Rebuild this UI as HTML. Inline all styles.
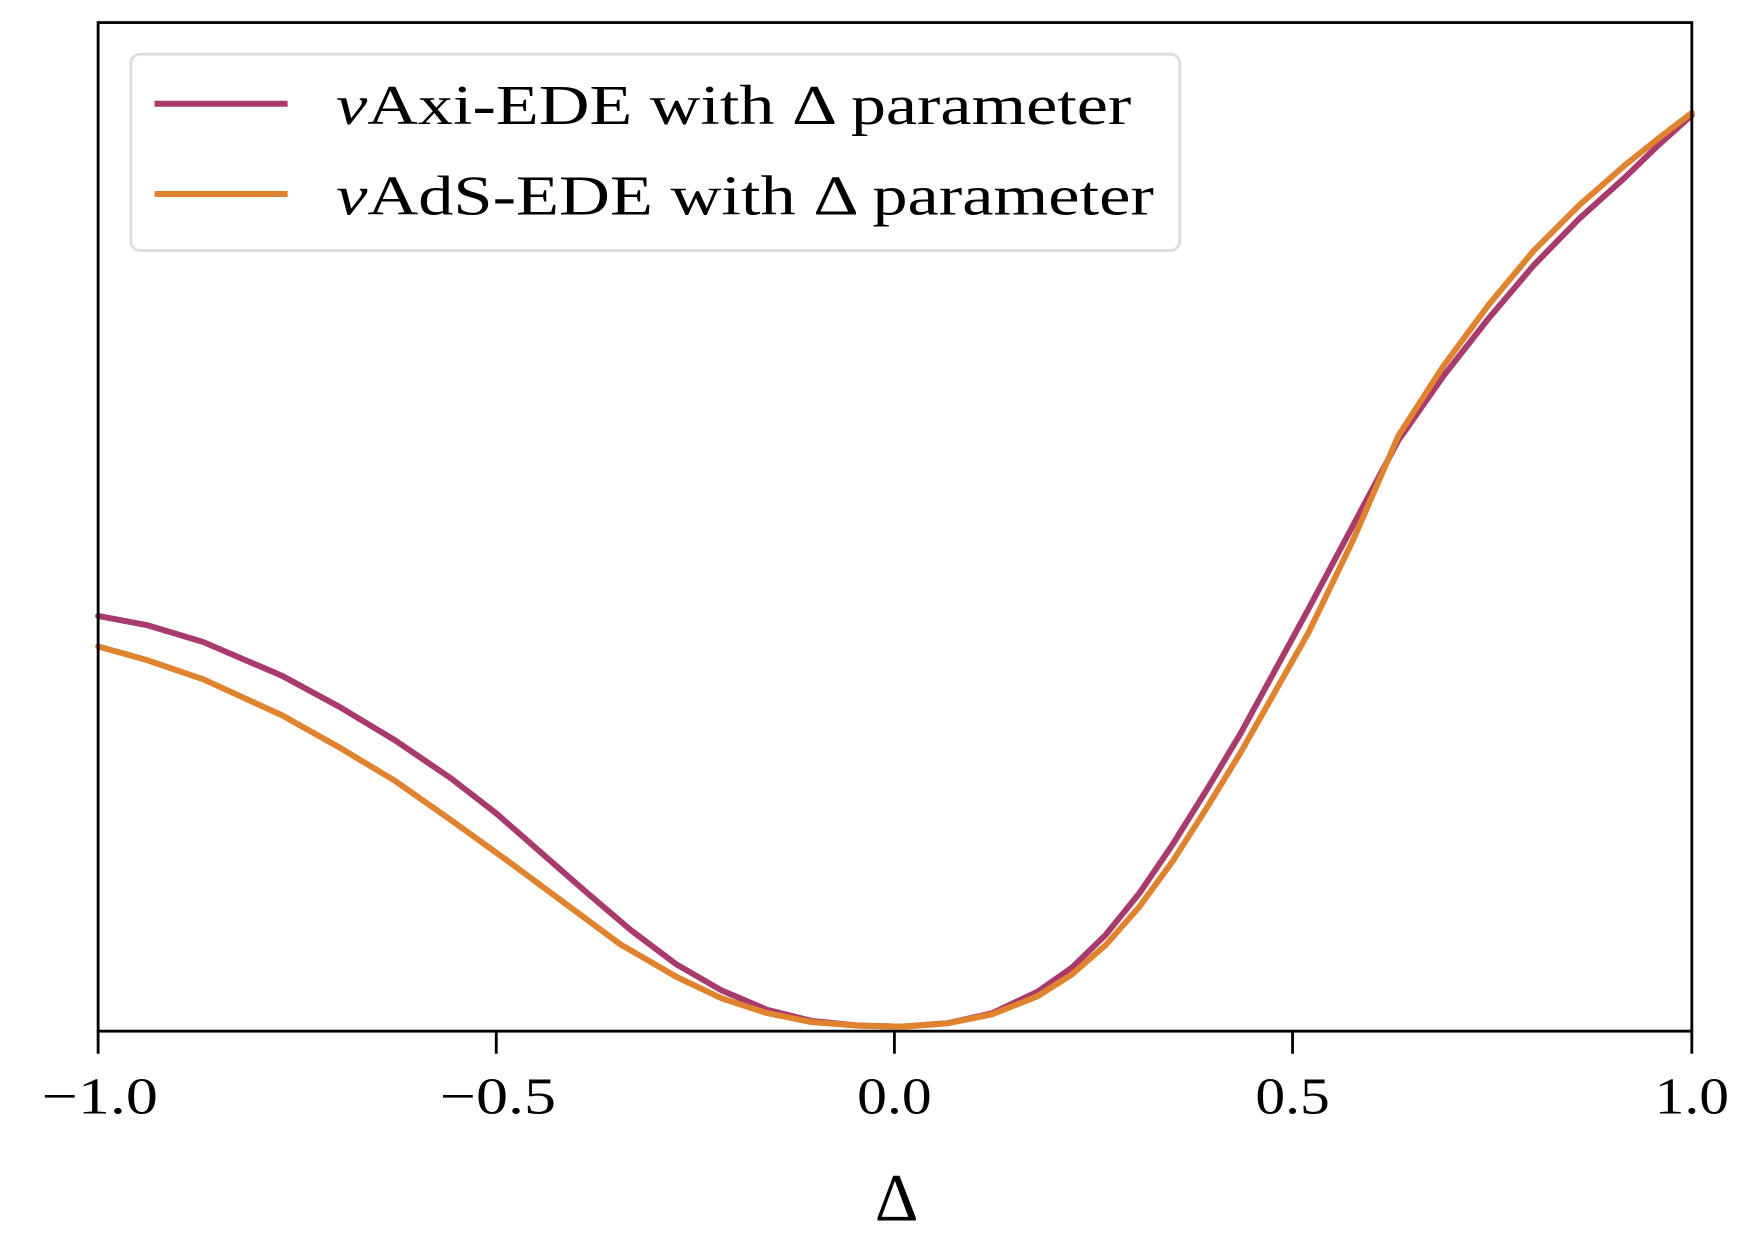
<!DOCTYPE html>
<html><head><meta charset="utf-8"><style>
html,body{margin:0;padding:0;background:#fff;}
svg{display:block;}
text{font-family:"Liberation Serif","DejaVu Serif",serif;fill:#000;}
</style></head><body>
<svg width="1764" height="1241" viewBox="0 0 1564 1100" preserveAspectRatio="none">
<rect x="0" y="0" width="1564" height="1100" fill="#fff"/>
<polyline fill="none" stroke="#a83a6e" stroke-width="5.3" stroke-linejoin="round" stroke-linecap="round" points="87,546 130,554 180,569 250,599 300,626 350,656 400,690 440,721 480,756 520,791 560,825 600,855 640,878 680,895 720,905 760,909 800,910 840,907 880,898 920,879 950,858 980,829 1010,792 1040,748 1070,700 1100,650 1130,595 1160,540 1200,465 1240,390 1280,333 1320,282 1360,235 1400,194 1440,158 1470,129 1500,102"/>
<polyline fill="none" stroke="#e0832e" stroke-width="5.3" stroke-linejoin="round" stroke-linecap="round" points="87,573 130,585 180,602 250,634 300,662 350,692 400,727 450,763 500,800 550,837 600,866 640,885 680,898 720,906 760,909 800,910 840,907 880,899 920,883 950,864 980,838 1010,804 1040,763 1070,716 1100,667 1130,614 1160,561 1200,478 1240,386 1280,324 1320,270 1360,222 1400,182 1440,147 1470,123 1500,100"/>
<rect x="87" y="20" width="1413" height="894" fill="none" stroke="#000" stroke-width="2.5"/>
<g stroke="#000" stroke-width="2.5">
<line x1="87" y1="914" x2="87" y2="934"/>
<line x1="440" y1="914" x2="440" y2="934"/>
<line x1="793" y1="914" x2="793" y2="934"/>
<line x1="1146" y1="914" x2="1146" y2="934"/>
<line x1="1500" y1="914" x2="1500" y2="934"/>
</g>
<g font-size="46">
<text x="37" y="987" textLength="103" lengthAdjust="spacingAndGlyphs">−1.0</text>
<text x="390" y="987" textLength="103" lengthAdjust="spacingAndGlyphs">−0.5</text>
<text x="760" y="987" textLength="66" lengthAdjust="spacingAndGlyphs">0.0</text>
<text x="1113" y="987" textLength="66" lengthAdjust="spacingAndGlyphs">0.5</text>
<text x="1467" y="987" textLength="66" lengthAdjust="spacingAndGlyphs">1.0</text>
</g>
<text x="795" y="1082" font-size="60" text-anchor="middle">Δ</text>
<rect x="116" y="48" width="930" height="174" rx="8" fill="#fff" fill-opacity="0.8" stroke="#ddd" stroke-width="2.5"/>
<line x1="137" y1="92" x2="255" y2="92" stroke="#a83a6e" stroke-width="5.3"/>
<line x1="137" y1="172" x2="255" y2="172" stroke="#e0832e" stroke-width="5.3"/>
<text x="298" y="110" font-size="50" textLength="705" lengthAdjust="spacingAndGlyphs"><tspan font-style="italic">ν</tspan>Axi-EDE with Δ parameter</text>
<text x="298" y="190" font-size="50" textLength="725" lengthAdjust="spacingAndGlyphs"><tspan font-style="italic">ν</tspan>AdS-EDE with Δ parameter</text>
</svg>
</body></html>
